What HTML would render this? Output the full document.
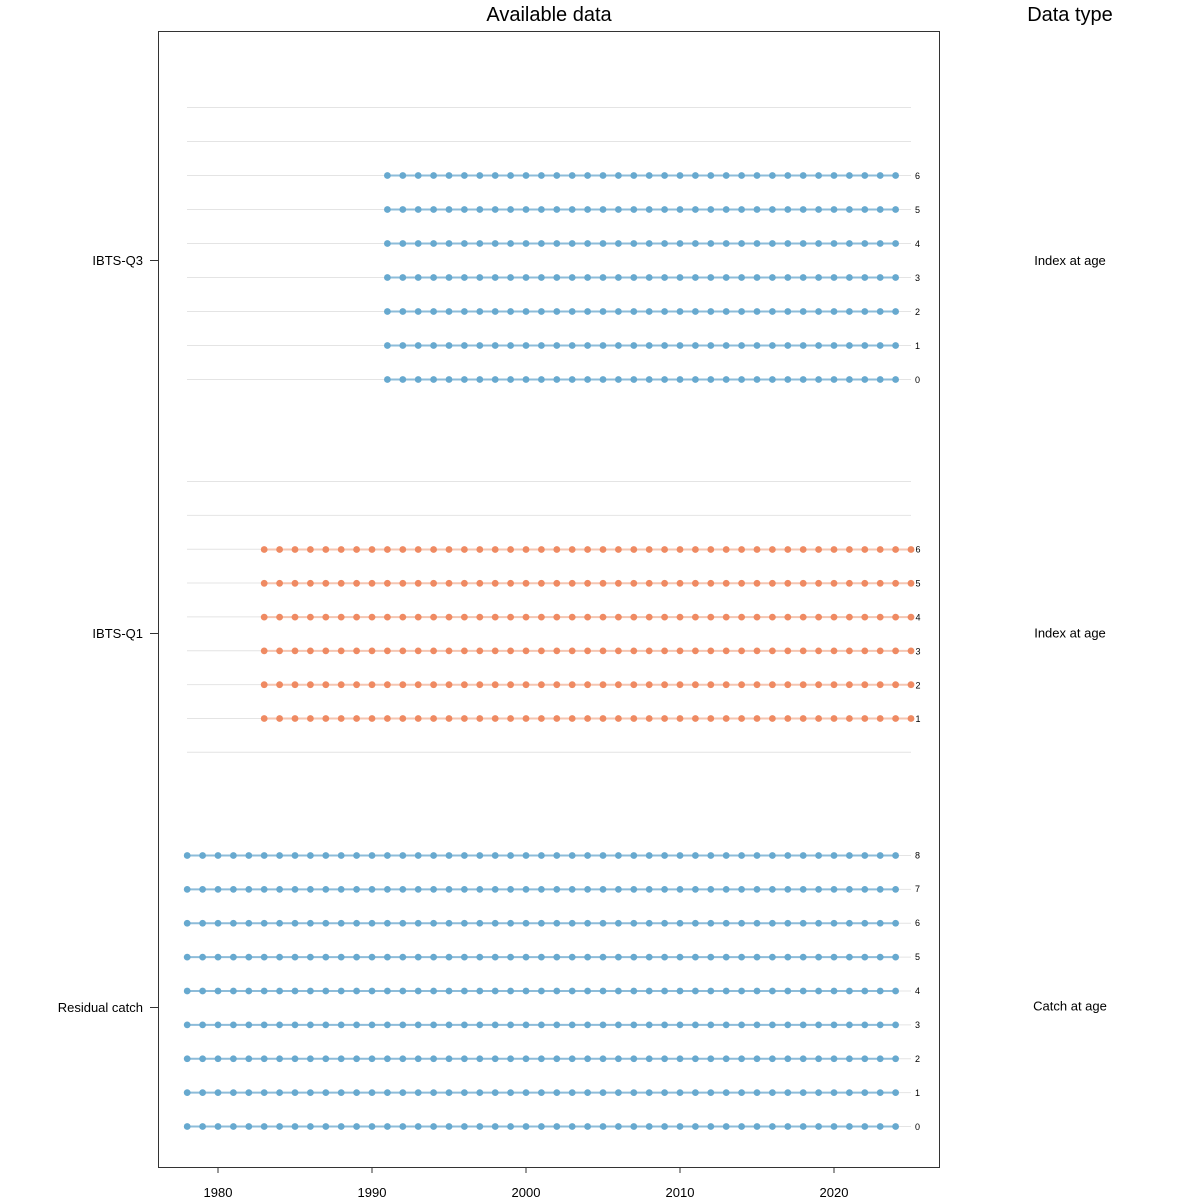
<!DOCTYPE html>
<html>
<head>
<meta charset="utf-8">
<style>
html,body{margin:0;padding:0;background:#fff;}
svg{display:block;font-family:"Liberation Sans",sans-serif;}
</style>
</head>
<body>
<svg id="c" width="1200" height="1200" viewBox="0 0 1200 1200" xmlns="http://www.w3.org/2000/svg">
<rect x="0" y="0" width="1200" height="1200" fill="#fff"/>
<g id="grid" stroke="#e4e4e4" stroke-width="1"></g>
<g id="series"></g>
<rect x="158.5" y="31.5" width="781" height="1136" fill="none" stroke="#333" stroke-width="1"/>
<text x="549" y="21" font-size="20" text-anchor="middle" fill="#000">Available data</text>
<text x="1070" y="21" font-size="20" text-anchor="middle" fill="#000">Data type</text>
<g stroke="#333" stroke-width="1">
<line x1="218" y1="1167" x2="218" y2="1173"/>
<line x1="372" y1="1167" x2="372" y2="1173"/>
<line x1="526" y1="1167" x2="526" y2="1173"/>
<line x1="680" y1="1167" x2="680" y2="1173"/>
<line x1="834" y1="1167" x2="834" y2="1173"/>
<line x1="150" y1="260.5" x2="158" y2="260.5"/>
<line x1="150" y1="633.5" x2="158" y2="633.5"/>
<line x1="150" y1="1007.5" x2="158" y2="1007.5"/>
</g>
<g font-size="13" text-anchor="middle" fill="#000">
<text x="218" y="1197">1980</text>
<text x="372" y="1197">1990</text>
<text x="526" y="1197">2000</text>
<text x="680" y="1197">2010</text>
<text x="834" y="1197">2020</text>
</g>
<g font-size="13" text-anchor="end" fill="#000">
<text x="143" y="265">IBTS-Q3</text>
<text x="143" y="638">IBTS-Q1</text>
<text x="143" y="1012">Residual catch</text>
</g>
<g font-size="13" text-anchor="middle" fill="#000">
<text x="1070" y="265">Index at age</text>
<text x="1070" y="637.5">Index at age</text>
<text x="1070" y="1010.5">Catch at age</text>
</g>
<g font-size="9" fill="#000">
<text x="915" y="179">6</text>
<text x="915" y="213">5</text>
<text x="915" y="247">4</text>
<text x="915" y="281">3</text>
<text x="915" y="315">2</text>
<text x="915" y="349">1</text>
<text x="915" y="383">0</text>
<text x="915.5" y="552.5">6</text>
<text x="915.5" y="586.5">5</text>
<text x="915.5" y="620.5">4</text>
<text x="915.5" y="654.5">3</text>
<text x="915.5" y="688.5">2</text>
<text x="915.5" y="722">1</text>
<text x="915" y="858.5">8</text>
<text x="915" y="892">7</text>
<text x="915" y="926">6</text>
<text x="915" y="960">5</text>
<text x="915" y="994">4</text>
<text x="915" y="1028">3</text>
<text x="915" y="1062">2</text>
<text x="915" y="1096">1</text>
<text x="915" y="1130">0</text>
</g>
</svg>
<script>
(function(){
var NS="http://www.w3.org/2000/svg";
var grid=document.getElementById("grid"), ser=document.getElementById("series");
function X(yr){return 218+(yr-1980)*15.4;}
function gl(y){var l=document.createElementNS(NS,"line");l.setAttribute("x1",187);l.setAttribute("x2",911);l.setAttribute("y1",y);l.setAttribute("y2",y);grid.appendChild(l);}
function row(y,y0,y1,lc,mc){
 var l=document.createElementNS(NS,"line");
 l.setAttribute("x1",X(y0));l.setAttribute("x2",X(y1));l.setAttribute("y1",y);l.setAttribute("y2",y);
 l.setAttribute("stroke",lc);l.setAttribute("stroke-width","2");ser.appendChild(l);
 for(var yr=y0;yr<=y1;yr++){var c=document.createElementNS(NS,"circle");c.setAttribute("cx",X(yr));c.setAttribute("cy",y);c.setAttribute("r","3.4");c.setAttribute("fill",mc);ser.appendChild(c);}
}
var i,y;
for(i=0;i<9;i++){gl(107.5+34*i);}
for(i=0;i<=6;i++){row(379.5-34*i,1991,2024,"#8dbcd9","#67a9cf");}
for(i=0;i<9;i++){gl(481.5+33.85*i);}
for(i=1;i<=6;i++){row(718.5-33.8*(i-1),1983,2025,"#f5c6b2","#ef8a62");}
for(i=0;i<=8;i++){y=1126.5-33.875*i;gl(y);row(y,1978,2024,"#8dbcd9","#67a9cf");}
})();
</script>
</body>
</html>
